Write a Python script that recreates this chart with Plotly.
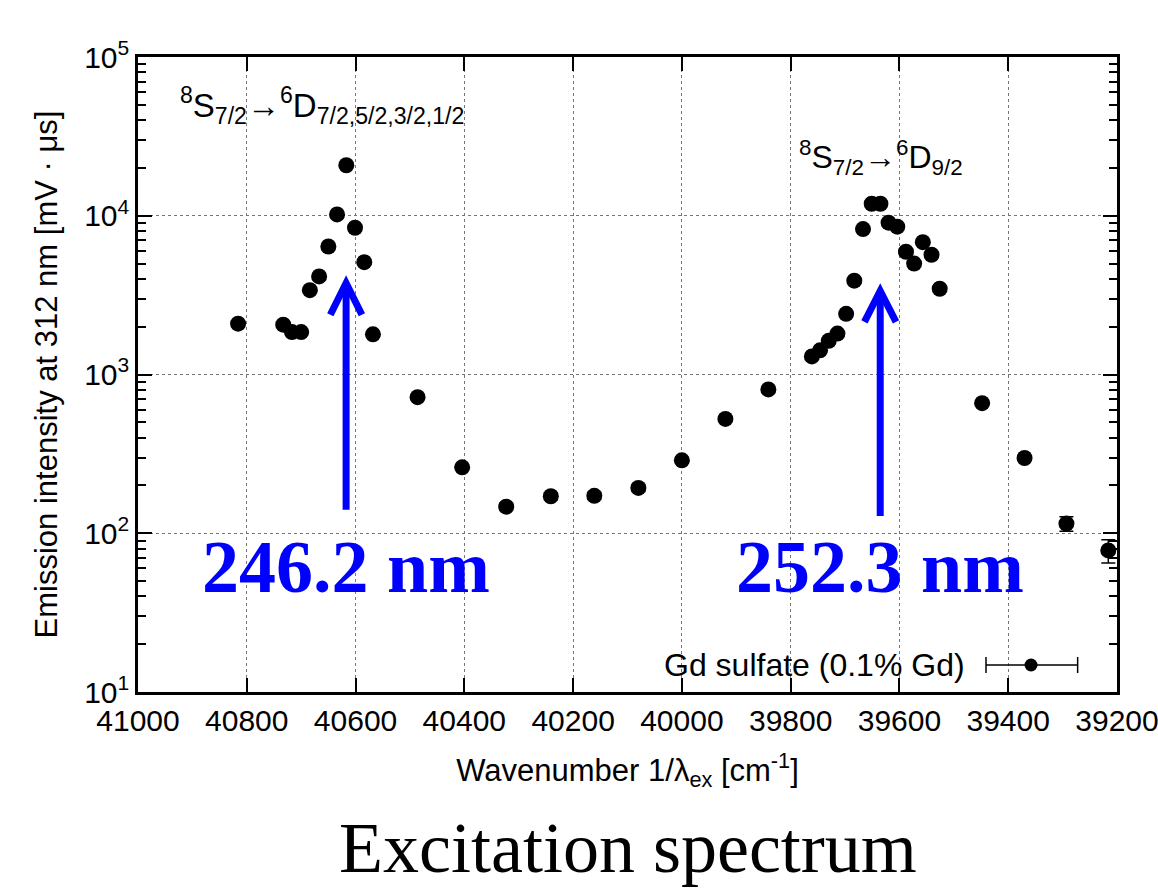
import plotly.graph_objects as go

# Excitation wavenumber (cm^-1) of each measurement
wavenumber = [40816, 40733, 40717, 40700, 40684, 40667, 40650, 40634, 40617, 40601,
              40584, 40568, 40486, 40404, 40323, 40241, 40161, 40080, 40000, 39920,
              39841, 39761, 39746, 39730, 39714, 39698, 39683, 39667, 39651, 39635,
              39620, 39604, 39588, 39573, 39557, 39541, 39526, 39448, 39370, 39293,
              39216]

# Emission intensity at 312 nm (mV*us)
intensity = [2090, 2060, 1850, 1850, 3400, 4150, 6400, 10200, 20800, 8400,
             5100, 1790, 720, 260, 147, 171, 172, 193, 288, 525,
             805, 1300, 1420, 1630, 1810, 2410, 3900, 8240, 11900, 11900,
             9040, 8530, 5930, 5000, 6820, 5680, 3470, 660, 298, 115,
             78]

# Uncertainty of the intensity
intensity_err = [40, 40, 35, 35, 60, 70, 110, 180, 350, 150,
                 90, 35, 15, 8, 8, 9, 9, 10, 12, 15,
                 18, 25, 25, 30, 30, 40, 60, 140, 200, 200,
                 150, 140, 100, 90, 110, 95, 60, 15, 10, 12,
                 13]

x_ticks = [41000, 40800, 40600, 40400, 40200, 40000, 39800, 39600, 39400, 39200]
y_ticks = [10, 100, 1000, 10000, 100000]
y_ticktext = ["10<sup>1</sup>", "10<sup>2</sup>", "10<sup>3</sup>", "10<sup>4</sup>", "10<sup>5</sup>"]
y_minor = [m * d for d in [10, 100, 1000, 10000] for m in range(2, 10)]

peak_wavelengths_nm = [246.2, 252.3]

SANS = "Liberation Sans, Arial, sans-serif"
SERIF = "Liberation Serif, Times New Roman, serif"
BLUE = "#0000FF"

fig = go.Figure()
fig.add_trace(go.Scatter(
    x=wavenumber, y=intensity, mode="markers",
    marker=dict(color="black", size=16, line=dict(width=0)),
    error_y=dict(type="data", array=intensity_err, visible=True,
                 color="black", thickness=1.5, width=7),
    showlegend=False, cliponaxis=True,
))

axis_common = dict(
    showline=True, linecolor="black", linewidth=2.5, mirror="ticks",
    ticks="inside", tickcolor="black", tickwidth=2, ticklen=14,
    showgrid=True, gridcolor="#777777", gridwidth=1, griddash="dot",
    zeroline=False, ticklabeloverflow="allow",
)

fig.update_xaxes(
    range=[41000, 39200], tickvals=x_ticks, ticktext=[str(v) for v in x_ticks],
    tickfont=dict(family=SANS, size=30, color="black"),
    title=dict(text="Wavenumber 1/λ<sub>ex</sub> [cm<sup>-1</sup>]",
               font=dict(family=SANS, size=31, color="black"), standoff=24),
    **axis_common,
)
fig.update_yaxes(
    type="log", range=[1, 5], tickvals=y_ticks, ticktext=y_ticktext,
    tickfont=dict(family=SANS, size=30, color="black"),
    minor=dict(tickvals=y_minor, ticks="inside", ticklen=8, tickwidth=2,
               tickcolor="black", showgrid=False),
    title=dict(text="Emission intensity at 312 nm [mV · μs]",
               font=dict(family=SANS, size=31, color="black"), standoff=18),
    **axis_common,
)

shapes = []
annotations = []

# Peak arrows and wavelength labels
arrow_geom = [
    # (tip, arm end, shaft bottom) in paper units
    (0.644, 0.594, 0.287),
    (0.6315, 0.583, 0.277),
]
half_w = 29  # chevron half-width in cm^-1
for wl, (tip, arm, bottom) in zip(peak_wavelengths_nm, arrow_geom):
    xw = 1e7 / wl
    shapes.append(dict(type="line", xref="x", yref="paper", x0=xw, x1=xw,
                       y0=bottom, y1=tip - 0.004, line=dict(color=BLUE, width=7)))
    shapes.append(dict(type="path", xref="x", yref="paper",
                       path=f"M {xw + half_w},{arm} L {xw},{tip} L {xw - half_w},{arm}",
                       line=dict(color=BLUE, width=7)))
    annotations.append(dict(x=xw, xref="x", y=0.197, yref="paper",
                            text=f"<b>{wl} nm</b>", showarrow=False,
                            xanchor="center", yanchor="middle",
                            font=dict(family=SERIF, size=74, color=BLUE)))

# Transition labels
annotations.append(dict(
    x=0.0409, y=0.924, xref="paper", yref="paper", xanchor="left", yanchor="middle",
    text="<sup>8</sup>S<sub>7/2</sub>→<sup>6</sup>D<sub>7/2,5/2,3/2,1/2</sub>",
    showarrow=False, font=dict(family=SANS, size=33, color="black")))
annotations.append(dict(
    x=0.673, y=0.8425, xref="paper", yref="paper", xanchor="left", yanchor="middle",
    text="<sup>8</sup>S<sub>7/2</sub>→<sup>6</sup>D<sub>9/2</sub>",
    showarrow=False, font=dict(family=SANS, size=32, color="black")))

# Legend entry drawn as an error-bar symbol
ly = 0.0425
annotations.append(dict(
    x=0.8468, y=ly, xref="paper", yref="paper", xanchor="right", yanchor="middle",
    text="Gd sulfate (0.1% Gd)", showarrow=False,
    font=dict(family=SANS, size=32, color="black")))
lx0, lx1, lxm = 0.8662, 0.9598, 0.9122
shapes.append(dict(type="line", xref="paper", yref="paper", x0=lx0, x1=lx1,
                   y0=ly, y1=ly, line=dict(color="black", width=1.5)))
for cx in (lx0, lx1):
    shapes.append(dict(type="line", xref="paper", yref="paper", x0=cx, x1=cx,
                       y0=ly - 0.0126, y1=ly + 0.0126, line=dict(color="black", width=1.5)))
shapes.append(dict(type="circle", xref="paper", yref="paper",
                   xsizemode="pixel", ysizemode="pixel", xanchor=lxm, yanchor=ly,
                   x0=-6.5, x1=6.5, y0=-6.5, y1=6.5,
                   fillcolor="black", line=dict(width=0)))

# Caption below the chart
annotations.append(dict(
    x=0.5, y=-0.246, xref="paper", yref="paper", xanchor="center", yanchor="middle",
    text="Excitation spectrum", showarrow=False,
    font=dict(family=SERIF, size=72, color="black")))

fig.update_layout(
    width=1158, height=889,
    margin=dict(l=138, r=41, t=57, b=197, autoexpand=False),
    paper_bgcolor="white", plot_bgcolor="white",
    shapes=shapes, annotations=annotations,
    showlegend=False,
)

fig.write_html("out.html")
